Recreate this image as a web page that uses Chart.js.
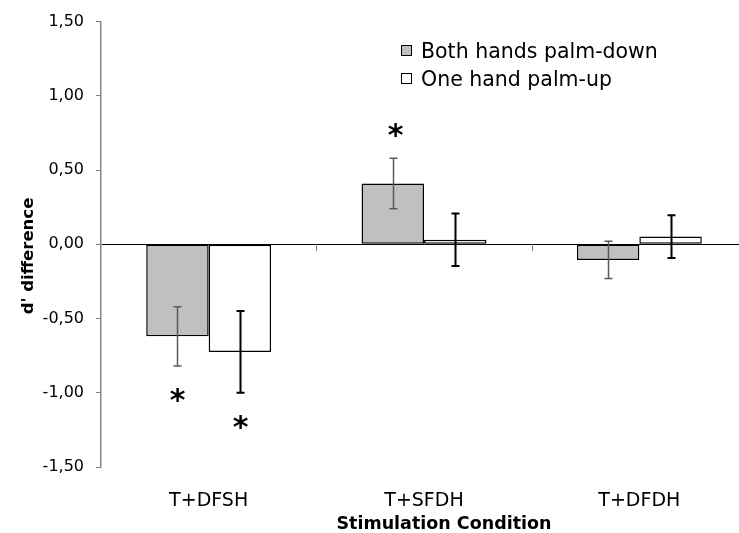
<!DOCTYPE html>
<html lang="en">
<head>
  <meta charset="UTF-8" />
  <title>d' difference by stimulation condition</title>
  <script src="https://cdn.jsdelivr.net/npm/chart.js"></script>
  <style>
    html, body { margin: 0; padding: 0; background: #fff; overflow: hidden; }
    #wrap { width: 750px; height: 533px; }
  </style>
</head>
<body>
  <div id="wrap">
    <canvas id="barChart" width="750" height="533"></canvas>
  </div>

  <script>
    // values
    const categories = ['T+DFSH', 'T+SFDH', 'T+DFDH'];
    const seriesNames = ['Both hands palm-down', 'One hand palm-up'];

    const palmDown = [-0.62, 0.41, -0.105];
    const palmDownErr = [0.20, 0.17, 0.125];
    const palmDownSig = [true, true, false];

    const palmUp = [-0.725, 0.03, 0.052];
    const palmUpErr = [0.275, 0.177, 0.144];
    const palmUpSig = [true, false, false];

    const yRange = [-1.5, 1.5];
    const yStep = 0.5;

    const FONT = 'DejaVu Sans';

    // error bars, asterisks, legend and axis titles
    const extras = {
      id: 'extras',
      afterDatasetsDraw(chart) {
        const ctx = chart.ctx;
        const x = chart.scales.x, y = chart.scales.y;
        ctx.save();

        // little tick marks between categories on the zero line
        const y0 = Math.round(y.getPixelForValue(0));
        ctx.strokeStyle = '#808080';
        ctx.lineWidth = 1;
        for (let i = 0; i < categories.length - 1; i++) {
          const bx = Math.round((x.getPixelForTick(i) + x.getPixelForTick(i + 1)) / 2) + 0.5;
          ctx.beginPath();
          ctx.moveTo(bx, y0);
          ctx.lineTo(bx, y0 + 7);
          ctx.stroke();
        }

        chart.data.datasets.forEach((ds, di) => {
          const meta = chart.getDatasetMeta(di);
          meta.data.forEach((bar, i) => {
            const v = ds.data[i], e = ds.errors[i];
            const top = y.getPixelForValue(v + e);
            const bot = y.getPixelForValue(v - e);
            const bx = Math.round(bar.x) + 0.5;
            ctx.strokeStyle = ds.errorColor;
            ctx.lineWidth = ds.errorWidth;
            ctx.beginPath();
            ctx.moveTo(bx, top); ctx.lineTo(bx, bot);
            ctx.moveTo(bx - 4, top); ctx.lineTo(bx + 4, top);
            ctx.moveTo(bx - 4, bot); ctx.lineTo(bx + 4, bot);
            ctx.stroke();

            if (ds.sig[i]) {
              ctx.fillStyle = '#000';
              ctx.font = 'bold 30px "' + FONT + '"';
              ctx.textAlign = 'center';
              ctx.textBaseline = 'middle';
              const cy = v > 0 ? top - 26 : bot + 31;
              ctx.fillText('*', bx + (v > 0 ? 2 : 0), cy + 5);
            }
          });
        });
        ctx.restore();
      },
      afterDraw(chart) {
        const ctx = chart.ctx;
        ctx.save();

        // legend
        ctx.font = '20.5px "' + FONT + '"';
        ctx.textAlign = 'left';
        ctx.textBaseline = 'middle';
        chart.data.datasets.forEach((ds, i) => {
          const by = 45 + 28 * i;
          ctx.fillStyle = ds.backgroundColor;
          ctx.fillRect(401, by, 11, 11);
          ctx.strokeStyle = '#000';
          ctx.lineWidth = 1;
          ctx.strokeRect(401.5, by + 0.5, 10, 10);
          ctx.fillStyle = '#000';
          ctx.fillText(ds.label, 421, by + 8);
        });

        // axis titles
        ctx.font = 'bold 16.5px "' + FONT + '"';
        ctx.textAlign = 'center';
        ctx.textBaseline = 'alphabetic';
        ctx.translate(33, 256);
        ctx.rotate(-Math.PI / 2);
        ctx.fillText("d' difference", 0, 0);
        ctx.setTransform(1, 0, 0, 1, 0, 0);

        ctx.font = 'bold 17.5px "' + FONT + '"';
        ctx.fillText('Stimulation Condition', 444, 529);
        ctx.restore();
      }
    };

    new Chart(document.getElementById('barChart'), {
      type: 'bar',
      data: {
        labels: categories,
        datasets: [{
          label: seriesNames[0],
          data: palmDown,
          errors: palmDownErr,
          sig: palmDownSig,
          errorColor: '#5a5a5a',
          errorWidth: 1.5,
          backgroundColor: '#c0c0c0',
          borderColor: '#000',
          borderWidth: 1.5,
          borderSkipped: false
        }, {
          label: seriesNames[1],
          data: palmUp,
          errors: palmUpErr,
          sig: palmUpSig,
          errorColor: '#000',
          errorWidth: 2,
          backgroundColor: '#ffffff',
          borderColor: '#000',
          borderWidth: 1.5,
          borderSkipped: false
        }]
      },
      options: {
        responsive: false,
        animation: false,
        devicePixelRatio: 1,
        layout: { padding: { top: 19, right: 3, left: 0, bottom: 0 } },
        plugins: {
          legend: { display: false },
          tooltip: { enabled: false }
        },
        datasets: {
          bar: { categoryPercentage: 0.58, barPercentage: 1.0 }
        },
        scales: {
          x: {
            offset: true,
            grid: { display: false },
            border: { display: false },
            ticks: {
              color: '#000',
              padding: 15,
              font: { family: FONT, size: 19 }
            },
            afterFit(scale) { scale.height = 66; }
          },
          y: {
            z: 1,
            min: yRange[0],
            max: yRange[1],
            ticks: {
              stepSize: yStep,
              color: '#000',
              padding: 12,
              font: { family: FONT, size: 16 },
              callback: v => v.toFixed(2).replace('.', ',')
            },
            grid: {
              color: c => (c.tick && c.tick.value === 0 ? '#000' : 'rgba(0,0,0,0)'),
              tickColor: '#808080',
              tickLength: 5,
              lineWidth: 1
            },
            border: { color: '#858585', width: 1.5 },
            afterFit(scale) { scale.width = 101; }
          }
        }
      },
      plugins: [extras]
    });
  </script>
</body>
</html>
